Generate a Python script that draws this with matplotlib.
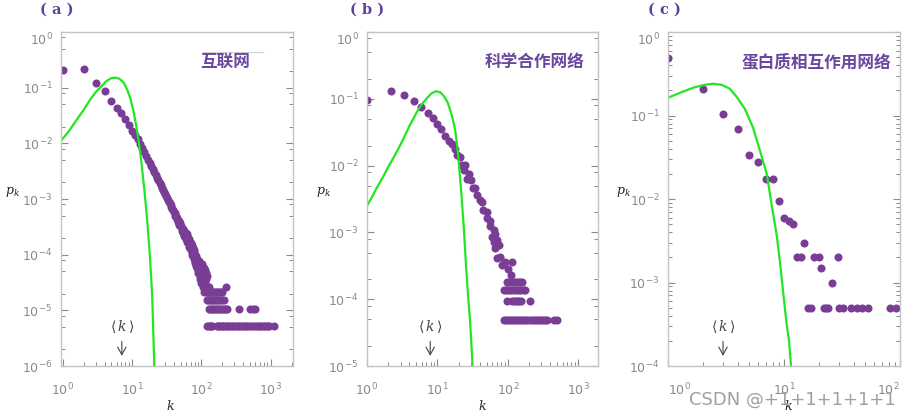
import matplotlib
matplotlib.use('Agg')
import matplotlib.pyplot as plt
from matplotlib.ticker import LogLocator, NullFormatter, LogFormatterSciNotation
from matplotlib.lines import Line2D

# fonts: sans for ticks, serif italic for math symbols
plt.rcParams['font.family'] = ['DejaVu Sans']
plt.rcParams['mathtext.fontset'] = 'custom'
plt.rcParams['mathtext.rm'] = 'DejaVu Sans'
plt.rcParams['mathtext.it'] = 'DejaVu Serif:italic'
plt.rcParams['mathtext.bf'] = 'DejaVu Sans:bold'

purple = '#7a3d96'
green = '#22e622'
label_purple = '#5e3f9c'

# ---------------- (a) internet ----------------
k_a_body = list(range(1, 121))
p_a_body = [0.21, 0.215, 0.12, 0.087, 0.058, 0.044, 0.035, 0.027, 0.021, 0.017,
            0.0142, 0.0118, 0.0096, 0.0081, 0.0069, 0.0059, 0.0051, 0.0044, 0.0039, 0.0034,
            0.003, 0.0027, 0.0024, 0.0022, 0.0019, 0.0018, 0.0016, 0.00148, 0.00135, 0.00124,
            0.00115, 0.00106, 0.00097, 0.0009, 0.00084, 0.00077, 0.00072, 0.00067, 0.00063, 0.00058,
            0.00056, 0.0005, 0.00049, 0.00043, 0.00046, 0.00039, 0.0004, 0.00034, 0.00037, 0.00031,
            0.00033, 0.00027, 0.0003, 0.00025, 0.00029, 0.00022, 0.00027, 0.00021, 0.00025, 0.00019,
            0.00024, 0.00017, 0.00022, 0.00016, 0.0002, 0.00014, 0.00019, 0.00013, 0.00017, 0.00012,
            0.00016, 0.00011, 0.00015, 0.0001, 0.00013, 0.000094, 0.00012, 0.000083, 0.00011, 0.000078,
            0.0001, 0.00007, 0.000094, 0.000062, 0.000088, 0.000057, 0.000083, 0.000052, 0.000078, 0.000047,
            0.000078, 0.000047, 0.000072, 0.000042, 0.000066, 0.000036, 0.00007, 0.000036, 0.000062, 0.000031,
            0.000068, 0.000031, 0.000062, 0.000026, 0.000057, 0.000031, 0.000052, 0.000026, 0.000057, 0.000021,
            0.000047, 0.000036, 0.000052, 0.000031, 0.000042, 0.000036, 0.000047, 0.000021, 0.000042, 0.000026]
# quantized tail rows (1/N ... 5/N)
k_a_row5 = [124, 129, 229]
k_a_row4 = [124, 128, 134, 140, 147, 155, 163, 172, 182, 192, 199]
k_a_row3 = [121, 126, 132, 138, 145, 152, 160, 168, 177, 187, 198, 210]
k_a_row2 = [128, 134, 141, 148, 156, 164, 173, 182, 192, 203, 214, 225, 235, 355, 510, 550, 600]
k_a_row1 = [121, 126, 132, 138, 142, 169, 175, 182, 190, 199, 208, 218, 229, 241, 254, 268,
            283, 299, 316, 334, 354, 375, 398, 422, 448, 476, 506, 538, 572, 608, 646, 686,
            728, 772, 818, 866, 916, 945, 1120]
p_a_levels = [2.6e-5, 2.1e-5, 1.56e-5, 1.04e-5, 5.2e-6]
# poisson curve
k_a_poisson = [0.94, 1.2, 1.5, 2.0, 2.5, 3.0, 3.6, 4.2, 5.0, 5.7, 6.5, 7.5, 8.5, 9.5,
               10.5, 11.5, 12.5, 13.5, 15, 16.5, 18, 19.5, 20.9]
p_a_poisson = [0.0112, 0.016, 0.024, 0.04, 0.062, 0.084, 0.105, 0.13, 0.148, 0.152, 0.145,
               0.125, 0.092, 0.062, 0.037, 0.02, 0.0105, 0.005, 0.0015, 0.00042, 0.0001,
               1.8e-5, 1e-6]
kavg_a = 7.1

# ---------------- (b) science collaboration ----------------
k_b_body = [1.0, 2.2, 3.4, 4.7, 5.9, 7.3, 8.6, 10, 11.3, 12.9, 14.4, 16, 17.9, 18.9, 20.6,
            22.7, 24.8, 24.2, 26.7, 28.2, 30, 32.5, 34.4, 37, 40, 43, 45, 50, 50, 55, 56,
            63, 59, 66, 63, 70, 66, 74, 70, 78, 82, 92, 114, 102, 110]
p_b_body = [0.095, 0.13, 0.115, 0.093, 0.076, 0.062, 0.052, 0.042, 0.035, 0.028, 0.023,
            0.021, 0.0175, 0.0145, 0.0135, 0.0103, 0.0103, 0.0087, 0.0063, 0.0074, 0.006,
            0.0047, 0.0047, 0.0036, 0.0031, 0.0029, 0.0022, 0.002, 0.00167, 0.00149, 0.00126,
            0.00107, 0.00085, 0.00095, 0.00072, 0.00077, 0.00058, 0.00065, 0.00041, 0.00043,
            0.00033, 0.00036, 0.00036, 0.00028, 0.00023]
k_b_row4 = [97, 105, 113, 122, 131, 140, 150, 158]
k_b_row3 = [87, 93, 100, 108, 116, 125, 134, 145, 156, 167, 178]
k_b_row2 = [97, 115, 122, 130, 138, 146, 155, 208]
k_b_row1 = [87, 93, 100, 107, 114, 122, 130, 139, 149, 160, 171, 183, 196, 210, 225, 240,
            258, 276, 296, 317, 340, 362, 445, 500]
p_b_levels = [1.8e-4, 1.38e-4, 9.3e-5, 4.8e-5]
k_b_poisson = [1.0, 1.2, 1.37, 1.7, 2.0, 2.37, 2.95, 3.5, 4.1, 5.1, 6.0, 7.1, 8.2, 9.5, 11,
               12.5, 14, 16, 17.9, 19.3, 21, 22.2, 23.8, 25.4, 27.3, 29.2, 31.6]
p_b_poisson = [0.0025, 0.0035, 0.0046, 0.0068, 0.0095, 0.013, 0.02, 0.029, 0.041, 0.063,
               0.083, 0.102, 0.12, 0.13, 0.125, 0.108, 0.088, 0.057, 0.034, 0.018, 0.0065,
               0.0031, 0.0011, 0.00033, 0.00011, 4.4e-5, 1e-5]
kavg_b = 7.9

# ---------------- (c) protein interactions ----------------
k_c = [1, 2, 3, 4, 5, 6, 7, 8, 9, 10, 11, 12, 13, 14, 15, 16, 17, 18, 20, 21, 22, 23, 24,
       26, 29, 30, 32, 38, 43, 47, 53, 82, 93]
p_c = [0.49, 0.21, 0.103, 0.069, 0.034, 0.028, 0.0176, 0.0176, 0.0095, 0.006, 0.0055, 0.005,
       0.002, 0.002, 0.003, 0.00049, 0.00049, 0.002, 0.002, 0.0015, 0.00049, 0.00049, 0.00049,
       0.001, 0.002, 0.00049, 0.00049, 0.00049, 0.00049, 0.00049, 0.00049, 0.00049, 0.00049]
k_c_poisson = [1.0, 1.3, 1.7, 2.1, 2.46, 2.9, 3.4, 3.9, 4.6, 5.4, 6.2, 7.1, 7.9, 8.65, 9.3,
               9.87, 10.5, 11.04, 11.5]
p_c_poisson = [0.163, 0.19, 0.218, 0.234, 0.24, 0.233, 0.21, 0.168, 0.12, 0.072, 0.038, 0.02,
               0.0078, 0.0037, 0.0016, 0.00073, 0.00033, 0.0002, 1e-4]
kavg_c = 2.98

titles = ['( a )', '( b )', '( c )']
names = ['互联网', '科学合作网络', '蛋白质相互作用网络']

# figure 909 x 418
fig = plt.figure(figsize=(9.09, 4.18), dpi=100)
ax_a = fig.add_axes([0.0671, 0.1244, 0.2552, 0.799])
ax_b = fig.add_axes([0.4037, 0.1244, 0.2541, 0.799])
ax_c = fig.add_axes([0.7349, 0.1244, 0.2552, 0.799])
axes = [ax_a, ax_b, ax_c]

dot = dict(linestyle='none', marker='o', markersize=5.8, color=purple, markeredgewidth=0)

# (a)
ax_a.plot(k_a_body, p_a_body, **dot)
for row, level in zip([k_a_row5, k_a_row4, k_a_row3, k_a_row2, k_a_row1], p_a_levels):
    ax_a.plot(row, [level] * len(row), **dot)
ax_a.plot(k_a_poisson, p_a_poisson, color=green, lw=1.6)

# (b)
ax_b.plot(k_b_body, p_b_body, **dot)
for row, level in zip([k_b_row4, k_b_row3, k_b_row2, k_b_row1], p_b_levels):
    ax_b.plot(row, [level] * len(row), **dot)
ax_b.plot(k_b_poisson, p_b_poisson, color=green, lw=1.6)

# (c)
ax_c.plot(k_c, p_c, **dot)
ax_c.plot(k_c_poisson, p_c_poisson, color=green, lw=1.6)

limits = [((0.94, 2100), (1e-6, 1)), ((1, 1900), (1e-5, 1)), ((1, 100), (1e-4, 1))]
y_subs = [(2, 5, 8), (2, 5, 8), tuple(range(2, 10))]
kavgs = [kavg_a, kavg_b, kavg_c]

for i, ax in enumerate(axes):
    ax.set_xscale('log')
    ax.set_yscale('log')
    ax.set_xlim(limits[i][0])
    ax.set_ylim(limits[i][1])
    for s in ax.spines.values():
        s.set_color('#c4c4c4')
        s.set_linewidth(1.0)
    ax.xaxis.set_major_locator(LogLocator(base=10, subs=(1.0,), numticks=20))
    ax.xaxis.set_minor_locator(LogLocator(base=10, subs=tuple(range(2, 10)), numticks=20))
    ax.yaxis.set_major_locator(LogLocator(base=10, subs=(1.0,), numticks=20))
    ax.yaxis.set_minor_locator(LogLocator(base=10, subs=y_subs[i], numticks=20))
    ax.xaxis.set_major_formatter(LogFormatterSciNotation())
    ax.yaxis.set_major_formatter(LogFormatterSciNotation())
    ax.xaxis.set_minor_formatter(NullFormatter())
    ax.yaxis.set_minor_formatter(NullFormatter())
    ax.tick_params(axis='y', which='both', direction='in', left=True, right=True,
                   colors='#8a8a8a', labelsize=9, pad=6)
    ax.tick_params(axis='x', which='both', direction='in', bottom=True, top=False,
                   colors='#8a8a8a', labelsize=9, pad=11)
    ax.tick_params(which='major', length=5, width=0.8)
    ax.tick_params(which='minor', length=3, width=0.7)

    # <k> marker with arrow
    ax.text(kavgs[i], 0.117, r'$\langle\, k\, \rangle$', transform=ax.get_xaxis_transform(),
            ha='center', va='center', fontsize=10, color='#444444')
    ax.annotate('', xy=(kavgs[i], 0.022), xytext=(kavgs[i], 0.082),
                xycoords=ax.get_xaxis_transform(), textcoords=ax.get_xaxis_transform(),
                arrowprops=dict(arrowstyle='->,head_length=0.55,head_width=0.3',
                                color='#444444', lw=0.8))

# top y label sits just under the frame, as in the scan
fig.canvas.draw()
for ax in axes:
    for tick in ax.yaxis.get_major_ticks():
        if abs(tick.get_loc() - 1.0) < 1e-9:
            tick.label1.set_va('top')
# squeeze the outer x labels of (c) inside the frame
for tick in ax_c.xaxis.get_major_ticks():
    if abs(tick.get_loc() - 1.0) < 1e-9:
        tick.label1.set_ha('left')
    if abs(tick.get_loc() - 100.0) < 1e-9:
        tick.label1.set_ha('right')

# panel letters, names, axis labels (figure coords)
title_x = [0.0627, 0.4037, 0.7305]
name_x = [0.2475, 0.5875, 0.8977]
pk_x = [0.0132, 0.3553, 0.6854]
k_x = [0.187, 0.531, 0.867]
for i in range(3):
    fig.text(title_x[i], 0.977, titles[i], ha='center', va='center', fontsize=10.5,
             family='DejaVu Serif', weight='bold', color=label_purple)
    fig.text(name_x[i], 0.852, names[i], ha='center', va='center', fontsize=12,
             family=['Noto Sans CJK SC', 'DejaVu Sans'], weight='bold', color='#6a479f')
    fig.text(pk_x[i], 0.541, r'$p_k$', ha='center', va='center', fontsize=9, color='#222222')
    fig.text(k_x[i], 0.028, r'$k$', ha='center', va='center', fontsize=9, color='#222222')

# faint rule above the first name, as in the scan
fig.add_artist(Line2D([203 / 909, 263 / 909], [1 - 51.7 / 418, 1 - 51.7 / 418],
                      color='#d4d0dc', lw=0.8))

# watermark
fig.text(0.985, 0.043, 'CSDN @+1+1+1+1+1', ha='right', va='center', fontsize=13,
         color='#a0a0a0')

fig.savefig('out.png', dpi=100)
